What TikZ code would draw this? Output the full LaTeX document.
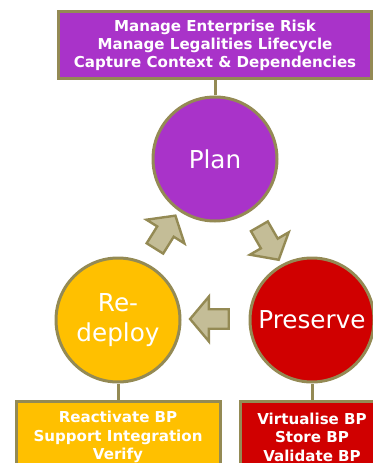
\documentclass[tikz,border=0pt]{standalone}
\usepackage{fontspec}
\setmainfont{DejaVu Sans}
\usepackage{tikz}
\usetikzlibrary{positioning, calc, shapes.arrows}
\definecolor{planpurple}{HTML}{A933C9}
\definecolor{keepred}{HTML}{D00000}
\definecolor{reuseyellow}{HTML}{FFC000}
\definecolor{olivebrd}{HTML}{948A54}
\definecolor{tanfill}{HTML}{C4BD97}
\tikzset{
	phase/.style = {circle, draw = olivebrd, line width = 2.25pt, minimum size = 93pt,
		inner sep = 0pt, text = white, align = center, font = \fontsize{18.5}{22}\selectfont},
	task/.style = {rectangle, draw = olivebrd, line width = 2.25pt, text = white,
		align = center, font = \fontsize{11.3}{13.8}\selectfont\bfseries, inner sep = 0pt},
	link/.style = {draw = olivebrd, line width = 2.25pt},
	turn/.style = {single arrow, draw = olivebrd, fill = tanfill, line width = 1.8pt,
		minimum height = 29pt, inner sep = 6.4pt, single arrow head extend = 9.5pt,
		single arrow tip angle = 100}
}

\begin{document}
\begin{tikzpicture}[x = 0.75pt, y = -0.75pt]
		\useasboundingbox (0,0) rectangle (372,463);
		\node (plan) [phase, fill = planpurple] at (215,159) {Plan};
		\node (preserve) [phase, fill = keepred] at (312,320) {Preserve};
		\node (redeploy) [phase, fill = reuseyellow] at (118,320) {Re-\\deploy};
		\node (plantasks) [task, fill = planpurple, minimum width = 235pt, minimum height = 50pt,
			above = 11.5pt of plan]
			{Manage Enterprise Risk\\Manage Legalities Lifecycle\\Capture Context \& Dependencies};
		\node (redeploytasks) [task, fill = reuseyellow, minimum width = 153pt, minimum height = 54pt,
			below = 12pt of redeploy, anchor = north]
			{Reactivate BP\\Support Integration\\Verify};
		\node (preservetasks) [task, fill = keepred, minimum width = 108pt, minimum height = 54pt,
			below = 12pt of preserve, anchor = north]
			{Virtualise BP\\Store BP\\Validate BP};
		\path[link]
			(plantasks) -- (plan)
			(redeploy) -- (redeploytasks)
			(preserve) -- (preservetasks);
		% cycle arrows
		\node (upturn) [turn, rotate = 58] at ($(redeploy)!0.5!(plan) + (-3.5,-4)$) {};
		\node (downturn) [turn, rotate = -60] at ($(plan)!0.5!(preserve) + (3.5,0)$) {};
		\node (backturn) [turn, rotate = 180] at ($(preserve)!0.5!(redeploy) + (-1.5,-1)$) {};
	\end{tikzpicture}
\end{document}
